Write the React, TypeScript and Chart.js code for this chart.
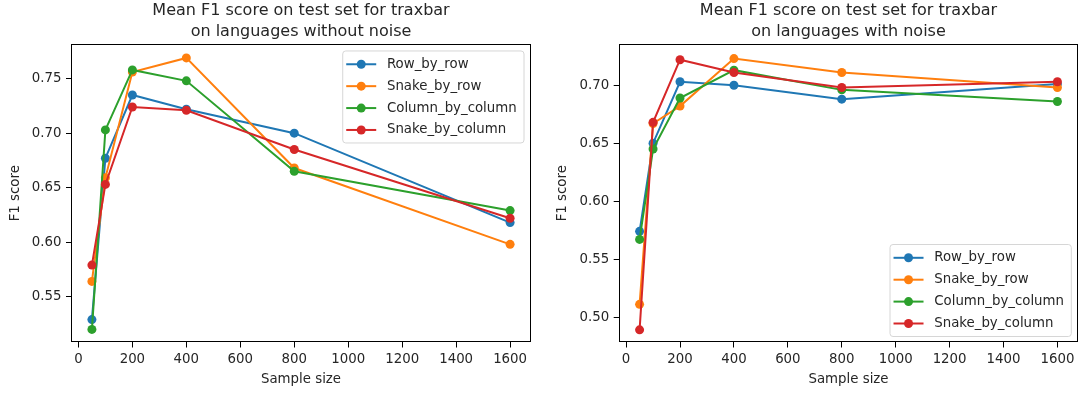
import React, { useEffect, useRef } from 'react';
import { Chart, registerables } from 'chart.js';

Chart.register(...registerables);

// ---------- data ----------
const SAMPLE_SIZES = [50, 100, 200, 400, 800, 1600];
const SERIES_NAMES = ['Row_by_row', 'Snake_by_row', 'Column_by_column', 'Snake_by_column'];
const SERIES_COLORS = ['#1f77b4', '#ff7f0e', '#2ca02c', '#d62728'];

// without noise
const ROW_NO_NOISE = [0.529, 0.677, 0.735, 0.722, 0.700, 0.618];
const SNAKE_ROW_NO_NOISE = [0.564, 0.659, 0.756, 0.769, 0.668, 0.598];
const COL_NO_NOISE = [0.520, 0.703, 0.758, 0.748, 0.665, 0.629];
const SNAKE_COL_NO_NOISE = [0.579, 0.653, 0.724, 0.721, 0.685, 0.622];

// with noise
const ROW_NOISE = [0.574, 0.650, 0.703, 0.700, 0.688, 0.701];
const SNAKE_ROW_NOISE = [0.511, 0.667, 0.682, 0.723, 0.711, 0.698];
const COL_NOISE = [0.567, 0.645, 0.689, 0.713, 0.696, 0.686];
const SNAKE_COL_NOISE = [0.489, 0.668, 0.722, 0.711, 0.698, 0.703];

const X_TICKS = [0, 200, 400, 600, 800, 1000, 1200, 1400, 1600];
const Y_TICKS_NO_NOISE = [0.55, 0.6, 0.65, 0.7, 0.75];
const Y_TICKS_NOISE = [0.5, 0.55, 0.6, 0.65, 0.7];

const TITLE_NO_NOISE = ['Mean F1 score on test set for traxbar', 'on languages without noise'];
const TITLE_NOISE = ['Mean F1 score on test set for traxbar', 'on languages with noise'];
const X_LABEL = 'Sample size';
const Y_LABEL = 'F1 score';

// ---------- styling ----------
const FAMILY = '"DejaVu Sans", "Liberation Sans", sans-serif';
const TEXT = '#262626';
const FS = 13.33;
const MARKER_R = 4.5;

function framePlugin() {
  return {
    id: 'mplFrame',
    afterDatasetsDraw(chart: any) {
      const { ctx, chartArea } = chart;
      ctx.save();
      ctx.strokeStyle = '#000';
      ctx.lineWidth = 1;
      const l = Math.round(chartArea.left) + 0.5;
      const t = Math.round(chartArea.top) + 0.5;
      const r = Math.round(chartArea.right) - 0.5;
      const b = Math.round(chartArea.bottom) - 0.5;
      ctx.strokeRect(l, t, r - l, b - t);
      ctx.restore();
    },
  };
}

function legendPlugin(loc: 'upper right' | 'lower right') {
  return {
    id: 'mplLegend',
    afterDraw(chart: any) {
      const { ctx, chartArea } = chart;
      const datasets = chart.data.datasets;
      ctx.save();
      ctx.font = `${FS}px ${FAMILY}`;
      const maxW = Math.max(...datasets.map((d: any) => ctx.measureText(d.label).width));
      const padL = 3.5;
      const handleLen = 30;
      const textPad = 10.7;
      const padR = 7.3;
      const w = padL + handleLen + textPad + maxW + padR;
      const rowH = 21.9;
      const h = 92;
      const x = chartArea.right - 7 - w;
      const y = loc === 'upper right' ? chartArea.top + 7 : chartArea.bottom - 6 - h;
      const rad = 3;
      ctx.beginPath();
      ctx.moveTo(x + rad, y);
      ctx.arcTo(x + w, y, x + w, y + h, rad);
      ctx.arcTo(x + w, y + h, x, y + h, rad);
      ctx.arcTo(x, y + h, x, y, rad);
      ctx.arcTo(x, y, x + w, y, rad);
      ctx.closePath();
      ctx.fillStyle = 'rgba(255,255,255,0.8)';
      ctx.fill();
      ctx.strokeStyle = '#d6d6d6';
      ctx.lineWidth = 1;
      ctx.stroke();
      datasets.forEach((d: any, i: number) => {
        const cy = y + 13.3 + i * rowH;
        ctx.strokeStyle = d.borderColor;
        ctx.lineWidth = 2;
        ctx.beginPath();
        ctx.moveTo(x + padL, cy);
        ctx.lineTo(x + padL + handleLen, cy);
        ctx.stroke();
        ctx.fillStyle = d.borderColor;
        ctx.beginPath();
        ctx.arc(x + padL + handleLen / 2, cy, MARKER_R, 0, Math.PI * 2);
        ctx.fill();
        ctx.fillStyle = TEXT;
        ctx.textAlign = 'left';
        ctx.textBaseline = 'middle';
        ctx.fillText(d.label, x + padL + handleLen + textPad, cy);
      });
      ctx.restore();
    },
  };
}

type PanelProps = {
  left: number;
  width: number;
  title: string[];
  series: number[][];
  yTicks: number[];
  yMin: number;
  yMax: number;
  yScaleWidth: number;
  yTitlePad: number;
  rightPad: number;
  legendLoc: 'upper right' | 'lower right';
};

function Panel(p: PanelProps) {
  const ref = useRef<HTMLCanvasElement | null>(null);
  useEffect(() => {
    if (!ref.current) return;
    const chart = new Chart(ref.current, {
      type: 'line',
      data: {
        datasets: p.series.map((vals, i) => ({
          label: SERIES_NAMES[i],
          data: SAMPLE_SIZES.map((x, j) => ({ x, y: vals[j] })),
          borderColor: SERIES_COLORS[i],
          backgroundColor: SERIES_COLORS[i],
          pointBackgroundColor: SERIES_COLORS[i],
          pointBorderColor: SERIES_COLORS[i],
          pointBorderWidth: 0,
          pointRadius: MARKER_R,
          borderWidth: 2,
          tension: 0,
          fill: false,
          order: p.series.length - i,
        })),
      },
      options: {
        responsive: false,
        animation: false,
        devicePixelRatio: 1,
        events: [],
        layout: { padding: { left: 0, right: p.rightPad, top: 0, bottom: 0 } },
        plugins: {
          legend: { display: false },
          tooltip: { enabled: false },
          title: {
            display: true,
            text: p.title,
            fullSize: false,
            color: TEXT,
            font: { family: FAMILY, size: 16, weight: 'normal', lineHeight: 1.28 },
            padding: { top: 0.75, bottom: 2.25 },
          },
        },
        scales: {
          x: {
            type: 'linear',
            position: 'bottom',
            min: -27.5,
            max: 1677.5,
            afterBuildTicks: (s: any) => {
              s.ticks = X_TICKS.map((v) => ({ value: v }));
            },
            afterFit: (s: any) => {
              s.height = 51.5;
            },
            ticks: {
              color: TEXT,
              font: { family: FAMILY, size: FS },
              padding: 4.5,
              maxRotation: 0,
              autoSkip: false,
              callback: (v: any) => String(v),
            },
            grid: {
              display: true,
              drawOnChartArea: false,
              drawTicks: true,
              tickLength: 5,
              color: '#000',
              lineWidth: 1,
            },
            border: { display: false },
            title: {
              display: true,
              text: X_LABEL,
              color: TEXT,
              font: { family: FAMILY, size: FS },
              padding: { top: 0, bottom: 6 },
            },
          },
          y: {
            type: 'linear',
            position: 'left',
            min: p.yMin,
            max: p.yMax,
            afterBuildTicks: (s: any) => {
              s.ticks = p.yTicks.map((v) => ({ value: v }));
            },
            afterFit: (s: any) => {
              s.width = p.yScaleWidth;
            },
            ticks: {
              color: TEXT,
              font: { family: FAMILY, size: FS },
              padding: 4.5,
              autoSkip: false,
              callback: (v: any) => Number(v).toFixed(2),
            },
            grid: {
              display: true,
              drawOnChartArea: false,
              drawTicks: true,
              tickLength: 5,
              color: '#000',
              lineWidth: 1,
            },
            border: { display: false },
            title: {
              display: true,
              text: Y_LABEL,
              color: TEXT,
              font: { family: FAMILY, size: FS },
              padding: { top: p.yTitlePad, bottom: 0 },
            },
          },
        },
      } as any,
      plugins: [framePlugin(), legendPlugin(p.legendLoc)],
    });
    return () => chart.destroy();
  }, []);
  return (
    <canvas
      ref={ref}
      width={p.width}
      height={394}
      style={{ position: 'absolute', left: p.left, top: 0, width: p.width, height: 394, display: 'block' }}
    />
  );
}

export default function App() {
  return (
    <div style={{ position: 'absolute', left: 0, top: 0, width: 1084, height: 394, background: '#fff', overflow: 'hidden' }}>
      <Panel
        left={0}
        width={542}
        title={TITLE_NO_NOISE}
        series={[ROW_NO_NOISE, SNAKE_ROW_NO_NOISE, COL_NO_NOISE, SNAKE_COL_NO_NOISE]}
        yTicks={Y_TICKS_NO_NOISE}
        yMin={0.508}
        yMax={0.7818}
        yScaleWidth={71}
        yTitlePad={7.7}
        rightPad={11}
        legendLoc="upper right"
      />
      <Panel
        left={542}
        width={542}
        title={TITLE_NOISE}
        series={[ROW_NOISE, SNAKE_ROW_NOISE, COL_NOISE, SNAKE_COL_NOISE]}
        yTicks={Y_TICKS_NOISE}
        yMin={0.4781}
        yMax={0.7356}
        yScaleWidth={76.7}
        yTitlePad={12.7}
        rightPad={5.7}
        legendLoc="lower right"
      />
    </div>
  );
}
